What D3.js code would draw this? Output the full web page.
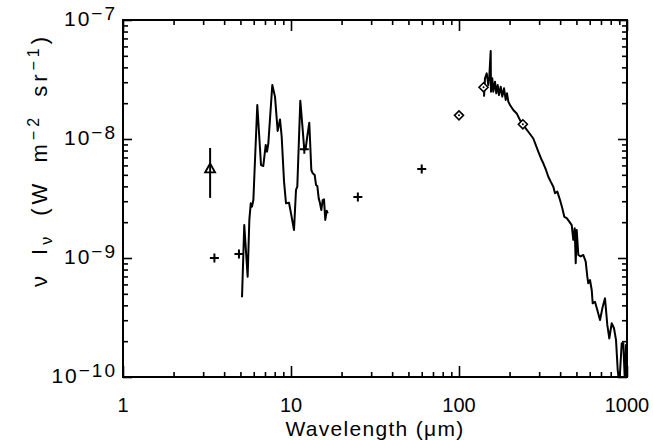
<!DOCTYPE html>
<html>
<head>
<meta charset="utf-8">
<script src="https://cdn.jsdelivr.net/npm/d3@7"></script>
<style>
  body { margin: 0; background: #fff; }
  text { font-family: "Liberation Sans", Helvetica, Arial, sans-serif; fill: #000; }
</style>
</head>
<body>
<div id="chart_area"></div>
<script>
// mid-IR spectrum (wavelength in um, nu I_nu in W m-2 sr-1)
const midWave = [5.11, 5.27, 5.52, 5.65, 5.76, 5.86, 5.97, 6.30, 6.63, 6.84, 7.07, 7.20, 7.33, 7.74,
  8.03, 8.33, 8.60, 8.80, 9.09, 9.34, 9.73, 10.0, 10.42, 10.71, 10.90, 11.36, 11.68, 12.00, 12.23,
  12.50, 12.85, 13.21, 13.47, 13.84, 14.09, 14.34, 14.62, 14.88, 15.15, 15.44, 15.72, 16.00, 16.31, 16.54];
const midFlux = [4.68e-10, 1.89e-9, 6.97e-10, 2.09e-9, 2.88e-9, 2.70e-9, 3.07e-9, 1.93e-8, 6.05e-9,
  5.93e-9, 8.90e-9, 7.82e-9, 9.20e-9, 2.84e-8, 2.27e-8, 1.17e-8, 1.46e-8, 1.05e-8, 4.38e-9, 2.88e-9,
  2.91e-9, 2.37e-9, 1.72e-9, 3.73e-9, 3.97e-9, 2.10e-8, 1.31e-8, 8.08e-9, 8.35e-9, 1.05e-8, 1.37e-8,
  5.49e-9, 5.15e-9, 4.98e-9, 4.11e-9, 4.03e-9, 3.17e-9, 2.88e-9, 2.53e-9, 3.07e-9, 3.11e-9, 2.09e-9,
  2.50e-9, 2.37e-9];

// far-IR spectrum
const farWave = [140.9, 142.8, 146.2, 148.2, 149.4, 151.5, 154.4, 155.0, 157.8, 160.0, 163.8, 166.7,
  170.0, 173.0, 177.1, 181.0, 185.3, 189.7, 193.1, 196.6, 201.2, 210.5, 220.5, 230.7, 241.4, 258.5,
  276.9, 296.5, 310.7, 317.6, 329.5, 340.1, 351.5, 364.3, 372.8, 384.7, 399.3, 412.1, 423.5, 437.7,
  453.5, 468.7, 479.1, 488.4, 495.1, 502.0, 513.1, 530.3, 549.5, 567.9, 580.4, 588.4, 602.3, 616.6,
  625.0, 644.9, 665.6, 690.8, 716.9, 739.7, 763.4, 784.6, 810.9, 836.9, 860.1, 880.3, 900.0, 930.0,
  950.6, 973.0, 986.0, 995.0];
const farFlux = [2.27e-8, 3.24e-8, 3.56e-8, 3.13e-8, 2.84e-8, 3.34e-8, 5.49e-8, 2.50e-8, 3.24e-8,
  2.50e-8, 3.03e-8, 2.42e-8, 2.84e-8, 2.34e-8, 2.75e-8, 2.27e-8, 2.67e-8, 2.13e-8, 2.42e-8, 2.06e-8,
  1.93e-8, 1.75e-8, 1.64e-8, 1.44e-8, 1.31e-8, 1.15e-8, 1.01e-8, 7.82e-9, 6.66e-9, 6.25e-9, 5.49e-9,
  4.82e-9, 4.38e-9, 3.97e-9, 3.50e-9, 3.61e-9, 3.07e-9, 2.62e-9, 2.22e-9, 2.16e-9, 2.02e-9, 1.89e-9,
  1.42e-9, 1.78e-9, 9.03e-10, 1.72e-9, 1.06e-9, 1.03e-9, 1.06e-9, 9.31e-10, 6.97e-10, 6.13e-10,
  6.53e-10, 5.38e-10, 4.16e-10, 4.29e-10, 3.66e-10, 3.01e-10, 3.90e-10, 4.58e-10, 2.74e-10, 2.11e-10,
  2.83e-10, 2.57e-10, 2.05e-10, 1.15e-10, 8.6e-11, 1.92e-10, 1.92e-10, 8.6e-11, 1.86e-10, 8.0e-11];

// photometry: crosses
const crossWave = [3.5, 4.9, 12, 25, 60];
const crossFlux = [1.0e-9, 1.08e-9, 8.2e-9, 3.26e-9, 5.6e-9];

// triangle with error bar
const triWave = [3.3];
const triFlux = [5.6e-9];
const triLow = [3.2e-9];
const triHigh = [8.4e-9];

// diamonds
const diaWave = [100, 140, 240];
const diaFlux = [1.58e-8, 2.72e-8, 1.33e-8];

// tick values
const xMajor = [1, 10, 100, 1000];
const xLabels = ['1', '10', '100', '1000'];
const yMajor = [1e-10, 1e-9, 1e-8, 1e-7];
const yExp = ['\u221210', '\u22129', '\u22128', '\u22127'];

const W = 653, H = 440;
const mLeft = 123, mRight = 627, mTop = 20, mBottom = 377;

const x = d3.scaleLog().domain([1, 1000]).range([mLeft, mRight]);
const y = d3.scaleLog().domain([1e-10, 1e-7]).range([mBottom, mTop]);

const svg = d3.select('#chart_area').append('svg')
  .attr('width', W).attr('height', H);

svg.append('defs').append('clipPath').attr('id', 'plotclip')
  .append('rect')
  .attr('x', mLeft).attr('y', mTop)
  .attr('width', mRight - mLeft).attr('height', mBottom - mTop);

// minor ticks
const xMinor = [];
for (let d = 1; d < 1000; d *= 10) for (let k = 2; k <= 9; k++) xMinor.push(d * k);
const yMinor = [];
for (let d = 1e-10; d < 0.9e-7; d *= 10) for (let k = 2; k <= 9; k++) yMinor.push(d * k);

function tickAxis(axisFn, scale, values, size, transform) {
  const g = svg.append('g').attr('transform', transform)
    .call(axisFn(scale).tickValues(values).tickSize(size).tickSizeOuter(0).tickFormat(''));
  g.select('.domain').remove();
  g.selectAll('line').attr('stroke', '#000').attr('stroke-width', 1.6);
}
// inward ticks on all four sides
tickAxis(d3.axisBottom, x, xMinor, -5, 'translate(0,' + mBottom + ')');
tickAxis(d3.axisBottom, x, xMajor, -11, 'translate(0,' + mBottom + ')');
tickAxis(d3.axisTop, x, xMinor, -5, 'translate(0,' + mTop + ')');
tickAxis(d3.axisTop, x, xMajor, -11, 'translate(0,' + mTop + ')');
tickAxis(d3.axisLeft, y, yMinor, -5, 'translate(' + mLeft + ',0)');
tickAxis(d3.axisLeft, y, yMajor, -9, 'translate(' + mLeft + ',0)');
tickAxis(d3.axisRight, y, yMinor, -5, 'translate(' + mRight + ',0)');
tickAxis(d3.axisRight, y, yMajor, -9, 'translate(' + mRight + ',0)');

// frame
svg.append('rect')
  .attr('x', mLeft).attr('y', mTop)
  .attr('width', mRight - mLeft).attr('height', mBottom - mTop)
  .attr('fill', 'none').attr('stroke', '#000').attr('stroke-width', 2);

// x tick labels
svg.selectAll('text.xlab').data(xMajor).enter().append('text')
  .attr('class', 'xlab')
  .attr('x', d => x(d)).attr('y', 412)
  .attr('text-anchor', 'middle')
  .attr('font-size', 20)
  .text((d, i) => xLabels[i]);

// y tick labels with superscript exponent
const ylab = svg.selectAll('text.ylab').data(yMajor).enter().append('text')
  .attr('class', 'ylab')
  .attr('x', 117).attr('y', d => y(d) + 6)
  .attr('text-anchor', 'end')
  .attr('font-size', 21)
  .attr('letter-spacing', 2);
ylab.append('tspan').text('10');
ylab.append('tspan').attr('dy', -6).attr('font-size', 19).text((d, i) => yExp[i]);

// axis titles
svg.append('text')
  .attr('x', 375).attr('y', 436)
  .attr('text-anchor', 'middle')
  .attr('font-size', 21)
  .attr('letter-spacing', 1.3)
  .text('Wavelength (\u03bcm)');

const yt = svg.append('text')
  .attr('transform', 'translate(47,160) rotate(-90)')
  .attr('text-anchor', 'middle')
  .attr('font-size', 22)
  .attr('letter-spacing', 4)
  .attr('word-spacing', 7);
yt.append('tspan').text('\u03bd I');
yt.append('tspan').attr('dy', 5).attr('font-size', 16).text('\u03bd');
yt.append('tspan').attr('dy', -5).text(' (W m');
yt.append('tspan').attr('dy', -8).attr('font-size', 16).text('\u22122');
yt.append('tspan').attr('dy', 8).text(' sr');
yt.append('tspan').attr('dy', -8).attr('font-size', 16).text('\u22121');
yt.append('tspan').attr('dy', 8).text(')');

// spectra
const plot = svg.append('g').attr('clip-path', 'url(#plotclip)');
const line = d3.line().x(d => x(d[0])).y(d => y(d[1]));

plot.append('path')
  .datum(midWave.map((w, i) => [w, midFlux[i]]))
  .attr('d', line)
  .attr('fill', 'none').attr('stroke', '#000').attr('stroke-width', 2)
  .attr('stroke-linejoin', 'round');

plot.append('path')
  .datum(farWave.map((w, i) => [w, farFlux[i]]))
  .attr('d', line)
  .attr('fill', 'none').attr('stroke', '#000').attr('stroke-width', 2)
  .attr('stroke-linejoin', 'round');

// crosses
plot.selectAll('path.cross').data(crossWave).enter().append('path')
  .attr('class', 'cross')
  .attr('transform', (d, i) => 'translate(' + x(d) + ',' + y(crossFlux[i]) + ')')
  .attr('d', 'M-4.5,0H4.5M0,-4.5V4.5')
  .attr('stroke', '#000').attr('stroke-width', 2);

// triangle with error bar
plot.selectAll('line.err').data(triWave).enter().append('line')
  .attr('class', 'err')
  .attr('x1', d => x(d)).attr('x2', d => x(d))
  .attr('y1', (d, i) => y(triLow[i])).attr('y2', (d, i) => y(triHigh[i]))
  .attr('stroke', '#000').attr('stroke-width', 2);
plot.selectAll('path.tri').data(triWave).enter().append('path')
  .attr('class', 'tri')
  .attr('transform', (d, i) => 'translate(' + x(d) + ',' + y(triFlux[i]) + ')')
  .attr('d', 'M0,-5.5L5,3.5L-5,3.5Z')
  .attr('fill', 'none').attr('stroke', '#000').attr('stroke-width', 1.8);

// diamonds
const dia = plot.selectAll('g.dia').data(diaWave).enter().append('g')
  .attr('class', 'dia')
  .attr('transform', (d, i) => 'translate(' + x(d) + ',' + y(diaFlux[i]) + ')');
dia.append('path')
  .attr('d', 'M0,-4.5L4.5,0L0,4.5L-4.5,0Z')
  .attr('fill', '#fff').attr('stroke', '#000').attr('stroke-width', 1.6);
dia.append('circle').attr('r', 1).attr('fill', '#000');
</script>
</body>
</html>
